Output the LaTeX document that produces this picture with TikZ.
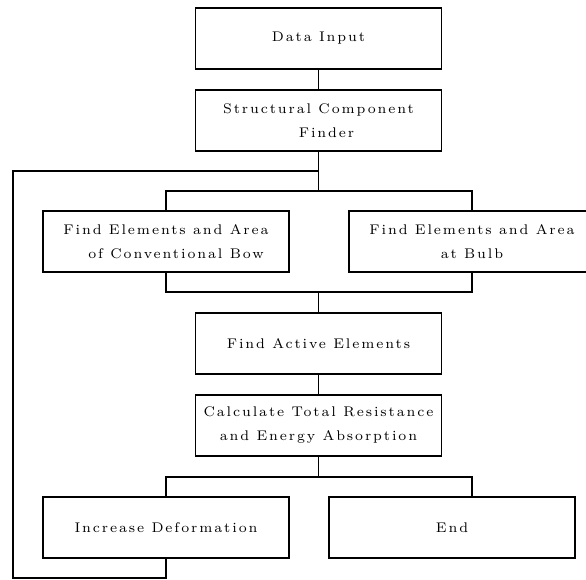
\documentclass[tikz,border=0pt]{standalone}
\usepackage{fontspec}
\newfontfamily\boxfam{lmroman7-regular.otf}[LetterSpace=13.5]
\usepackage{tikz}
\usetikzlibrary{positioning}
\tikzset{
  % Flowchart styles
  stepbox/.style={rectangle, draw=black, line width=1.8pt, outer sep=0pt, minimum width=246pt, minimum height=61pt, text centered, align=center, font=\boxfont},
  link/.style={line width=1.8pt, line cap=rect},
}
\newcommand{\boxfont}{\boxfam\fontsize{14}{24}\selectfont}

\begin{document}
\begin{tikzpicture}[x=1pt, y=1pt, node distance=21pt and 60pt]
    \useasboundingbox (0,0) rectangle (586,-579);

    % Input and structure
    \node[stepbox] (input) at (318.5,-38.5) {Data Input};
    \node[stepbox, below=of input] (finder) {Structural Component\\\hspace*{16pt}Finder};

    % Element search
    \node[stepbox] (conv) at (166,-241.5) {Find Elements and Area\\\hspace*{20pt}of Conventional Bow};
    \node[stepbox, right=of conv] (bulb) {Find Elements and Area\\at Bulb};

    % Evaluation
    \node[stepbox] (active) at (318.5,-343.5) {Find Active Elements};
    \node[stepbox, below=of active] (calc) {Calculate Total Resistance\\and Energy Absorption};

    % Outcome
    \node[stepbox] (incr) at (166,-527.5) {Increase Deformation};
    \node[stepbox, right=40pt of incr] (end) {End};

    % Connectors
    \coordinate (back) at (13,-171);
    \draw[link] (input) -- (finder);
    \draw[link] (finder.south) -- ++(0,-40) coordinate (fork1) -| (conv.north);
    \draw[link] (fork1) -| (bulb.north);
    \draw[link] (conv.south) -- ++(0,-20) coordinate (merge) -| (bulb.south);
    \draw[link] (active.north) -- (active.north |- merge);
    \draw[link] (active) -- (calc);
    \draw[link] (calc.south) -- ++(0,-21) coordinate (fork2) -| (incr.north);
    \draw[link] (fork2) -| ([xshift=20pt]end.north);

    % Loop back
    \draw[link] (incr.south) -- ++(0,-20) -| (back) -- (finder.south |- back);
  \end{tikzpicture}
\end{document}
